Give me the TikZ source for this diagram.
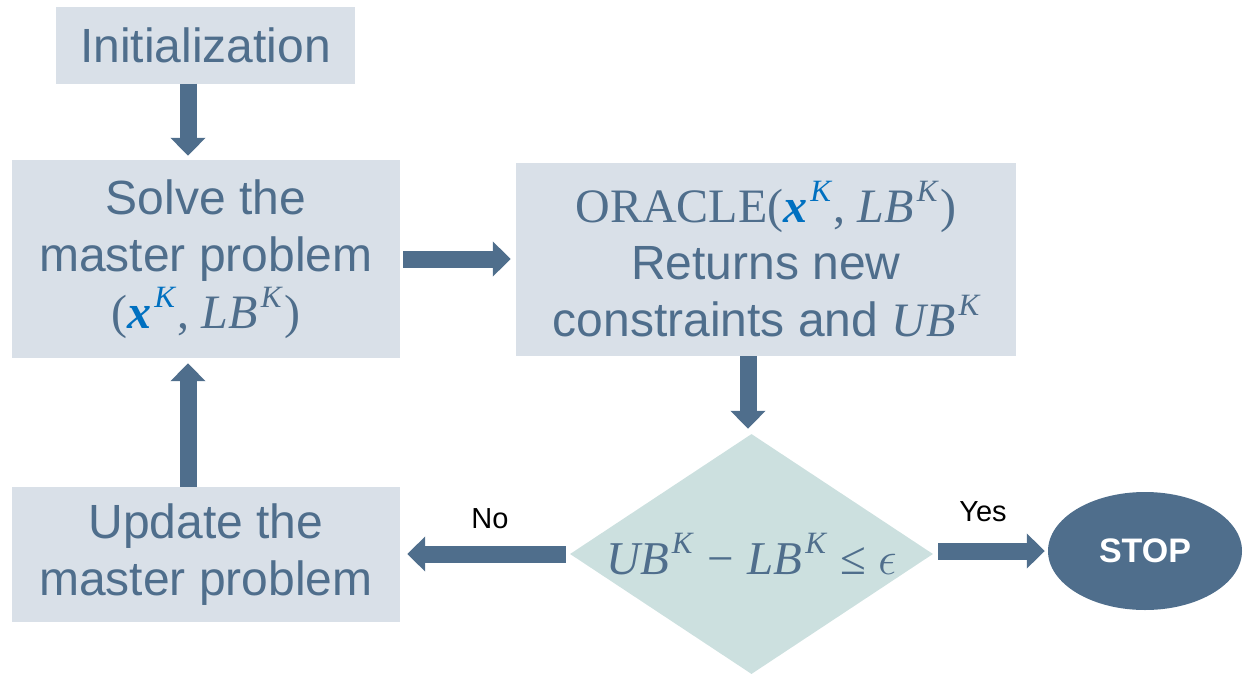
\RequirePackage{fix-cm}
\documentclass[tikz,border=0pt]{standalone}
\usepackage{fontspec}
\setsansfont{Liberation Sans}
\newfontfamily\serifmath[Scale=1.0]{Liberation Serif}
\usetikzlibrary{shapes.geometric,arrows.meta}

\definecolor{slate}{HTML}{4F6E8C}
\definecolor{boxfill}{HTML}{D9E0E8}
\definecolor{decfill}{HTML}{CCE0DF}
\definecolor{xblue}{HTML}{0070C0}

% math-like pieces set in a serif text font
\newcommand\mv[1]{{\serifmath\itshape #1}}
\newcommand\mr[1]{{\serifmath #1}}
\newcommand\supK{\hspace{0.06em}\raisebox{0.44em}{\fontsize{31}{31}\selectfont\serifmath\itshape K}\hspace{0.06em}}
\newcommand\xK{{\serifmath\color{xblue}{\bfseries\itshape x}\supK}}

\begin{document}
\begin{tikzpicture}[x=1pt,y=-1pt,
  stepbox/.style={rectangle, fill=boxfill, text=slate, inner sep=0pt,
    align=center, font=\fontsize{48}{57}\selectfont\sffamily},
  decision/.style={diamond, fill=decfill, text=slate, inner sep=0pt,
    minimum width=363pt, minimum height=240pt, aspect=1.51,
    font=\fontsize{47}{57}\selectfont\sffamily},
  endnode/.style={ellipse, fill=slate, text=white, inner sep=0pt,
    minimum width=194pt, minimum height=118pt,
    font=\fontsize{34}{40}\selectfont\sffamily\bfseries},
  lbl/.style={text=black, inner sep=0pt, font=\fontsize{29}{34}\selectfont\sffamily},
  flow/.style={draw=slate, line width=17pt,
    -{Triangle[length=18pt,width=34pt]}}]

\useasboundingbox (0,0) rectangle (1243,673);

% process boxes
\node[stepbox, minimum width=299pt, minimum height=77pt] (init) at (205.5,45) {Initialization};
\node[stepbox, minimum width=388pt, minimum height=198pt] (solve) at (206,259)
  {Solve the\\master problem\\\mr{(}\xK\mr{, }\mv{LB}\supK\mr{)}};
\node[stepbox, minimum width=500pt, minimum height=193pt] (oracle) at (766,259.5)
  {\mr{ORACLE(}\xK\mr{, }\mv{LB}\supK\mr{)}\\Returns new\\constraints and \mv{UB}\supK};
\node[stepbox, minimum width=388pt, minimum height=135pt] (update) at (206,554.5)
  {Update the\\master problem};

% decision and end
\node[decision] (test) at (751.5,554)
  {\mv{UB}\supK\hspace{0.25em}\mr{−}\hspace{0.3em}\mv{LB}\supK\hspace{0.25em}\mr{≤}\hspace{0.25em}$\epsilon$};
\node[endnode] (stop) at (1145,551) {STOP};

% connectors
\draw[flow, shorten >=4pt] ([xshift=-17.5pt]init.south) -- ([xshift=-17.5pt]init.south |- solve.north);
\draw[flow, shorten <=3pt, shorten >=5pt] (solve.east) -- (solve.east -| oracle.west);
\draw[flow, shorten >=5pt] ([xshift=-18pt]oracle.south) -- ([xshift=-18pt]oracle.south |- test.north);
\draw[flow, shorten <=4pt, shorten >=7pt] (test.west) -- (test.west -| update.east);
\draw[flow, shorten <=5pt, shorten >=3pt] (test.east |- stop.west) -- (stop.west);
\draw[flow, shorten >=5pt] ([xshift=-18pt]update.north) -- ([xshift=-18pt]update.north |- solve.south);

% branch labels
\node[lbl] (no) at (490,519) {No};
\node[lbl] (yes) at (983,512) {Yes};

\end{tikzpicture}
\end{document}
